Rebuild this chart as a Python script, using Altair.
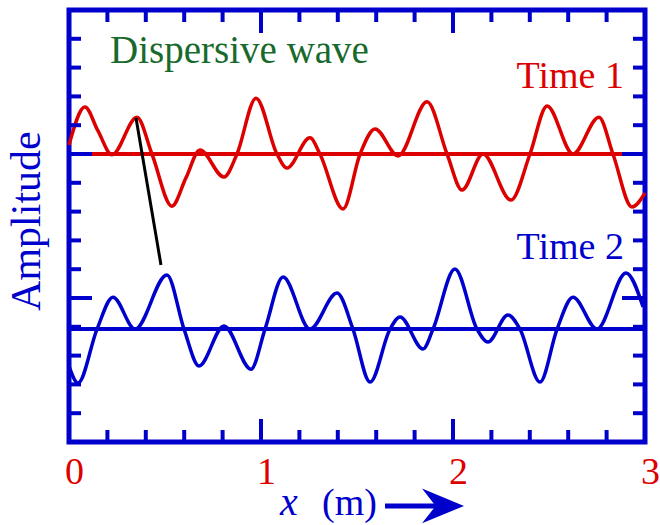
import altair as alt
import pandas as pd

# ---------------- data ----------------
# Time 1 (red) wave: x in metres, amplitude in axis units (0..15 frame)
red_x = [0.000, 0.083, 0.151, 0.224, 0.354, 0.432, 0.536, 0.609, 0.682, 0.807,
         0.875, 0.974, 1.083, 1.135, 1.255, 1.307, 1.427, 1.516, 1.594, 1.714,
         1.865, 1.969, 2.047, 2.156, 2.302, 2.401, 2.490, 2.625, 2.760, 2.833,
         2.932, 3.000]
red_y = [10.31, 11.63, 10.80, 9.97, 11.28, 10.00, 8.19, 9.17, 10.14, 9.20,
         10.00, 11.94, 10.00, 9.51, 10.56, 10.00, 8.09, 10.00, 10.87, 9.93,
         11.81, 10.00, 8.75, 10.00, 8.40, 10.00, 11.67, 10.00, 11.28, 10.00,
         8.16, 8.65]

# Time 2 (blue) wave
blue_x = [0.000, 0.047, 0.146, 0.229, 0.344, 0.510, 0.599, 0.677, 0.807, 0.948,
          1.021, 1.115, 1.255, 1.396, 1.479, 1.568, 1.672, 1.724, 1.844, 1.896,
          2.010, 2.125, 2.182, 2.286, 2.349, 2.453, 2.542, 2.625, 2.750, 2.901,
          2.990]
blue_y = [2.64, 2.05, 3.92, 5.03, 3.92, 5.80, 3.92, 2.64, 4.03, 2.53,
          3.92, 5.73, 3.92, 5.17, 3.92, 2.08, 3.92, 4.34, 3.23, 3.92,
          6.01, 3.92, 3.47, 4.41, 3.92, 2.08, 3.92, 5.03, 3.92, 5.87,
          4.69]

red_base = [10.0]
blue_base = [3.92]

# black connector between matching crests
link_x = [0.349, 0.479]
link_y = [11.25, 6.15]

# axis ticks / labels
x_labels = [0, 1, 2, 3]
x_minor = [0.2, 0.4, 0.6, 0.8, 1.2, 1.4, 1.6, 1.8, 2.2, 2.4, 2.6, 2.8]
x_major = [1, 2]
y_minor = [1, 2, 3, 4, 6, 7, 8, 9, 11, 12, 13, 14]
y_major = [5, 10]

# annotations
ann_text = ["Dispersive wave", "Time 1", "Time 2", "Amplitude", "x", "(m)"]
ann_x = [0.214, 2.89, 2.89, -0.151, 1.099, 1.318]
ann_y = [13.16, 12.29, 6.35, 7.67, -2.53, -2.53]
arrow_x = [1.646]
arrow_x2 = [1.925]
arrow_y = [-2.22]
head_x = [1.948]

# ---------------- styling ----------------
W, H = 576, 432
BLUE = "#0000cc"
RED = "#dd0000"
GREEN = "#176a2c"
BLACK = "#000000"
FONT = "Liberation Serif"

xs = alt.Scale(domain=[0, 3], nice=False, zero=False)
ys = alt.Scale(domain=[0, 15], nice=False, zero=False)

XAXIS = alt.Axis(
    values=x_labels, format="d", title=None, ticks=False, domain=False,
    grid=False, labelColor=RED, labelFont=FONT, labelFontSize=38,
    labelPadding=11, labelOffset=5, labelFlush=False, labelOverlap=False)


def X(field="x"):
    return alt.X(f"{field}:Q", scale=xs, axis=XAXIS)


def Y(field="y"):
    return alt.Y(f"{field}:Q", scale=ys, axis=None)


red_df = pd.DataFrame({"x": red_x, "y": red_y})
blue_df = pd.DataFrame({"x": blue_x, "y": blue_y})

red_line = alt.Chart(red_df).mark_line(
    color=RED, strokeWidth=3.5, interpolate="monotone"
).encode(x=X(), y=Y())

blue_line = alt.Chart(blue_df).mark_line(
    color=BLUE, strokeWidth=3.5, interpolate="monotone"
).encode(x=X(), y=Y())

red_rule = alt.Chart(pd.DataFrame({"y": red_base})).mark_rule(
    color=RED, strokeWidth=4).encode(y=Y(), x=alt.value(0), x2=alt.value(W))
blue_rule = alt.Chart(pd.DataFrame({"y": blue_base})).mark_rule(
    color=BLUE, strokeWidth=4).encode(y=Y(), x=alt.value(0), x2=alt.value(W))

link = alt.Chart(pd.DataFrame({"x": link_x, "y": link_y})).mark_line(
    color=BLACK, strokeWidth=3).encode(x=X(), y=Y())


def xticks(vals, length):
    df = pd.DataFrame({"v": vals})
    bottom = alt.Chart(df).mark_rule(color=BLUE, strokeWidth=4).encode(
        x=X("v"), y=alt.value(H), y2=alt.value(H - length))
    top = alt.Chart(df).mark_rule(color=BLUE, strokeWidth=4).encode(
        x=X("v"), y=alt.value(0), y2=alt.value(length))
    return [bottom, top]


def yticks(vals, length):
    df = pd.DataFrame({"v": vals})
    left = alt.Chart(df).mark_rule(color=BLUE, strokeWidth=4).encode(
        y=Y("v"), x=alt.value(0), x2=alt.value(length))
    right = alt.Chart(df).mark_rule(color=BLUE, strokeWidth=4).encode(
        y=Y("v"), x=alt.value(W), x2=alt.value(W - length))
    return [left, right]


ann_df = pd.DataFrame({"t": ann_text, "x": ann_x, "y": ann_y})


def label(i, color, size, align, style="normal", angle=0):
    kw = dict(color=color, font=FONT, fontSize=size, align=align,
              baseline="alphabetic", fontStyle=style)
    if angle:
        kw["angle"] = angle
    return alt.Chart(ann_df.iloc[[i]]).mark_text(**kw).encode(
        x=X(), y=Y(), text="t:N")


title = label(0, GREEN, 39, "left")
t1 = label(1, RED, 38, "right")
t2 = label(2, BLUE, 38, "right")
amp = label(3, BLUE, 42, "center", angle=270)
xvar = label(4, BLUE, 40, "left", style="italic")
unit = label(5, BLUE, 38, "left")

arrow_shaft = alt.Chart(pd.DataFrame({"x": arrow_x, "x2": arrow_x2, "y": arrow_y})).mark_rule(
    color=BLUE, strokeWidth=5).encode(x=X(), x2="x2:Q", y=Y())
arrow_head = alt.Chart(pd.DataFrame({"x": head_x, "y": arrow_y})).mark_point(
    shape="M1,0 L-1,-0.83 L-0.35,0 L-1,0.83 Z", size=1764, filled=True,
    color=BLUE, opacity=1, strokeWidth=0).encode(x=X(), y=Y())

layers = [red_line, blue_line, red_rule, blue_rule, link]
layers += xticks(x_minor, 12) + xticks(x_major, 23)
layers += yticks(y_minor, 12) + yticks(y_major, 23)
layers += [title, t1, t2, amp, xvar, unit, arrow_shaft, arrow_head]

chart = alt.layer(*layers).properties(
    width=W, height=H,
    padding={"left": 69, "top": 10, "right": 15, "bottom": 83},
    autosize=alt.AutoSizeParams(type="none"),
    background="white",
).configure(font=FONT).configure_text(font=FONT).configure_view(
    stroke=BLUE, strokeWidth=5)

chart.save("out.html", embed_options={"renderer": "svg", "actions": False})
